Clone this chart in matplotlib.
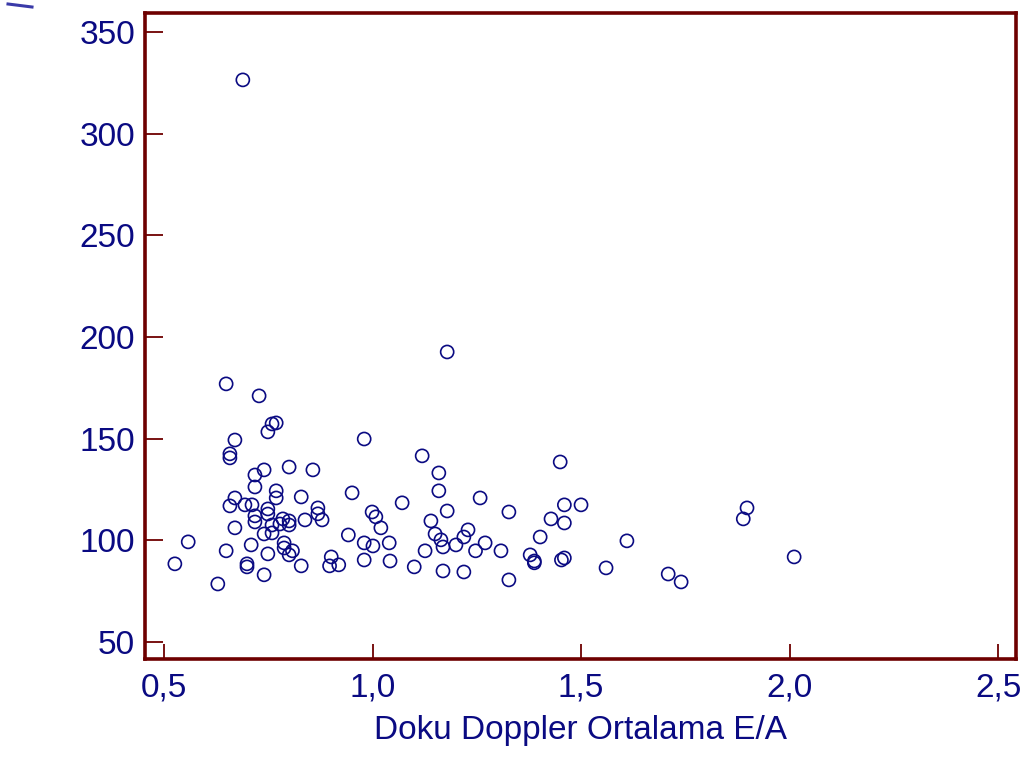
import matplotlib
matplotlib.use("Agg")
import matplotlib.pyplot as plt
from matplotlib.lines import Line2D
from matplotlib.ticker import FuncFormatter

# Tissue Doppler mean E/A ratio vs. measured value per patient
ea_ratio = [
    0.689, 1.179, 0.649, 0.728, 0.769, 0.759, 0.749, 0.670, 0.980, 0.658,
    0.658, 1.119, 1.450, 0.740, 0.800, 0.857, 1.159, 0.718, 0.718, 0.769,
    0.769, 0.670, 0.829, 0.951, 1.159, 1.258, 0.694, 0.711, 0.658, 0.749,
    0.869, 1.071, 1.179, 1.460, 1.500, 1.898, 0.749, 0.718, 0.999, 1.008,
    1.327, 0.869, 0.718, 0.785, 0.800, 0.838, 0.879, 1.140, 1.428, 1.889,
    1.460, 0.670, 0.759, 0.778, 0.800, 1.020, 1.229, 0.759, 0.740, 1.150,
    1.219, 0.942, 1.402, 0.558, 1.610, 0.709, 0.788, 0.980, 1.040, 0.788,
    1.001, 1.169, 1.200, 1.270, 0.649, 0.808, 1.126, 1.247, 1.308, 1.378,
    0.800, 0.749, 0.901, 1.460, 2.011, 1.453, 1.388, 1.388, 0.980, 1.042,
    0.526, 0.699, 0.699, 0.829, 0.897, 0.919, 1.100, 1.560, 1.169, 1.219,
    1.709, 0.740, 1.740, 1.327, 0.629, 1.164,
]
values = [
    326.4, 192.6, 176.9, 171.0, 157.7, 157.2, 153.3, 149.3, 149.8, 142.5,
    140.5, 141.5, 138.5, 134.6, 136.0, 134.6, 133.1, 132.1, 126.2, 124.3,
    120.8, 120.8, 121.3, 123.3, 124.3, 120.8, 117.4, 117.4, 116.9, 115.4,
    115.9, 118.4, 114.4, 117.4, 117.4, 115.9, 112.9, 112.0, 113.9, 111.5,
    113.9, 113.0, 109.0, 110.5, 109.5, 110.0, 110.0, 109.5, 110.5, 110.5,
    108.5, 106.1, 107.5, 108.0, 107.5, 106.1, 105.1, 103.6, 103.1, 103.1,
    101.6, 102.6, 101.6, 99.2, 99.7, 97.7, 98.7, 98.7, 98.7, 96.2,
    97.2, 96.7, 97.7, 98.7, 94.8, 94.8, 94.8, 94.8, 94.8, 92.8,
    92.8, 93.3, 91.8, 91.3, 91.8, 90.3, 89.8, 88.9, 90.3, 89.8,
    88.4, 88.4, 86.9, 87.4, 87.4, 87.9, 86.9, 86.4, 84.9, 84.4,
    83.4, 83.0, 79.5, 80.5, 78.5, 100.2,
]
x_ticks = [0.5, 1.0, 1.5, 2.0, 2.5]
y_ticks = [50, 100, 150, 200, 250, 300, 350]
x_label = "Doku Doppler Ortalama E/A"

navy = "#0a0a82"
frame = "#6e0000"

plt.rcParams["font.family"] = ["Liberation Sans", "DejaVu Sans"]

fig = plt.figure(figsize=(10.3, 7.6), dpi=100)
ax = fig.add_axes([145 / 1030, 1 - 659 / 760, 871 / 1030, 646 / 760])

ax.scatter(ea_ratio, values, s=9.4 ** 2, facecolors="none",
           edgecolors=navy, linewidths=1.2, zorder=3)

ax.set_xlim(0.4544, 2.543)
ax.set_ylim(41.6, 359.3)
ax.set_xticks(x_ticks)
ax.set_yticks(y_ticks)
ax.xaxis.set_major_formatter(FuncFormatter(lambda v, p: f"{v:.1f}".replace(".", ",")))

for s in ax.spines.values():
    s.set_color(frame)
    s.set_linewidth(2.6)

ax.tick_params(axis="x", direction="in", length=11, width=1.3, color=frame,
               labelcolor=navy, labelsize=24, pad=10)
ax.tick_params(axis="y", direction="in", length=13, width=1.3, color=frame,
               labelcolor=navy, labelsize=24, pad=7)

ax.set_xlabel(x_label, color=navy, fontsize=24, labelpad=8)

# fragment of a rotated label at the upper-left corner
fig.add_artist(Line2D([8 / 1030, 32 / 1030], [1 - 4 / 760, 1 - 7 / 760],
                      color="#3a3aa8", linewidth=2.2, transform=fig.transFigure))

fig.savefig("out.png", dpi=100)
